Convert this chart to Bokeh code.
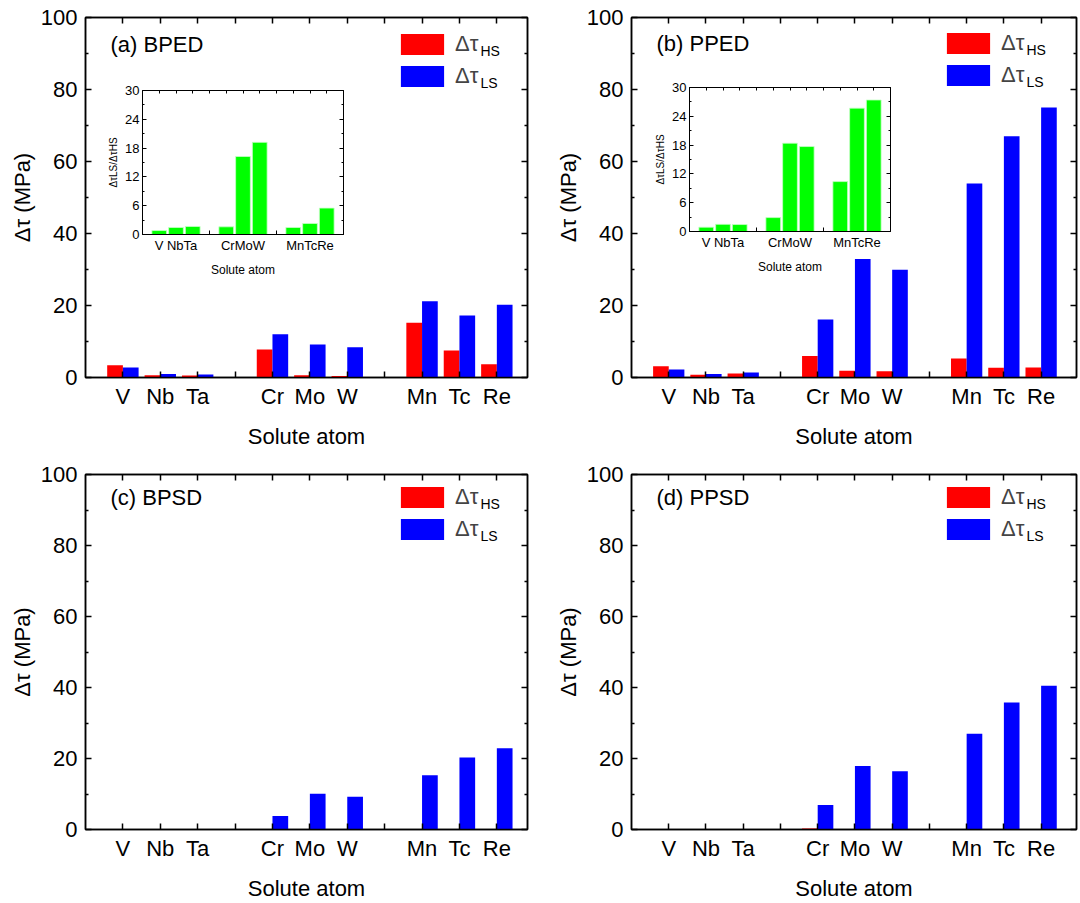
from bokeh.plotting import figure
from bokeh.models import (ColumnDataSource, Range1d, FixedTicker, LinearAxis,
                          Legend, LegendItem, Label, GridBox)
from bokeh.transform import dodge
from bokeh.core.properties import value
from bokeh.embed import file_html
from bokeh.resources import INLINE

# ---------------- data ----------------
groups = [["V", "Nb", "Ta"], ["Cr", "Mo", "W"], ["Mn", "Tc", "Re"]]
inset_group_labels = ["V NbTa", "CrMoW", "MnTcRe"]

bped_hs = [3.4, 0.65, 0.55, 7.8, 0.6, 0.4, 15.2, 7.5, 3.7]
bped_ls = [2.8, 1.0, 0.8, 12.0, 9.2, 8.4, 21.2, 17.2, 20.2]
pped_hs = [3.15, 0.74, 1.1, 6.0, 1.85, 1.75, 5.3, 2.7, 2.8]
pped_ls = [2.2, 1.0, 1.4, 16.1, 32.9, 29.9, 53.9, 67.0, 75.0]
bpsd_hs = [0.0, 0.0, 0.0, 0.1, 0.0, 0.0, 0.0, 0.0, 0.0]
bpsd_ls = [0.0, 0.0, 0.0, 3.8, 10.1, 9.2, 15.3, 20.3, 22.9]
ppsd_hs = [0.15, 0.0, 0.0, 0.3, 0.0, 0.0, 0.0, 0.0, 0.0]
ppsd_ls = [0.15, 0.0, 0.0, 6.9, 17.9, 16.4, 27.0, 35.8, 40.5]
bped_ratio = [0.83, 1.46, 1.67, 1.6, 16.25, 19.2, 1.46, 2.3, 5.5]
pped_ratio = [0.9, 1.5, 1.45, 2.9, 18.4, 17.7, 10.4, 25.7, 27.4]

y_major = [0, 20, 40, 60, 80, 100]
y_minor = [10, 30, 50, 70, 90]
inset_y_major = [0, 6, 12, 18, 24, 30]
inset_y_minor = [3, 9, 15, 21, 27]

# ---------------- layout helpers ----------------
atoms = [a for g in groups for a in g]
pos = [gi * 4 + i + 1 for gi, g in enumerate(groups) for i, _ in enumerate(g)]
all_ticks = list(range(1, 12))
gap_ticks = [gi * 4 for gi in range(1, len(groups))]
group_centers = [gi * 4 + 2 for gi in range(len(groups))]
xlabels = {t: "" for t in all_ticks}
for p_, a in zip(pos, atoms):
    xlabels[p_] = a

FONT = "Liberation Sans"
LW = 1.5


def style_axis(ax, size="22px", tick_in=6, minor_in=3):
    ax.axis_line_width = LW
    ax.axis_line_color = "black"
    ax.major_tick_line_width = LW
    ax.minor_tick_line_width = LW
    ax.major_tick_in = tick_in
    ax.major_tick_out = 0
    ax.minor_tick_in = minor_in
    ax.minor_tick_out = 0
    ax.major_label_text_font = FONT
    ax.major_label_text_font_size = size
    ax.major_label_text_color = "black"
    ax.axis_label_text_font = FONT
    ax.axis_label_text_font_style = "normal"
    ax.axis_label_text_color = "black"


def blank_axis(ticker, tick_in=6, minor_in=3):
    ax = LinearAxis(ticker=ticker)
    style_axis(ax, "0px", tick_in, minor_in)
    ax.major_label_standoff = 0
    ax.major_label_overrides = {t: "" for t in list(ticker.ticks)}
    return ax


def main_panel(tag, hs, ls, x_end, w, h, bl, br, bt, bb):
    p = figure(width=w, height=h, x_range=Range1d(0, x_end), y_range=Range1d(0, 100),
               output_backend="svg", toolbar_location=None,
               min_border_left=bl, min_border_right=br, min_border_top=bt, min_border_bottom=bb)
    p.xgrid.visible = False
    p.ygrid.visible = False
    p.outline_line_color = "black"
    p.outline_line_width = LW
    p.background_fill_color = "white"
    p.border_fill_color = "white"
    src = ColumnDataSource(dict(x=pos, hs=hs, ls=ls))
    r1 = p.vbar(x=dodge("x", -0.21), top="hs", width=0.42, source=src,
                fill_color="#FF0000", line_color=None)
    r2 = p.vbar(x=dodge("x", 0.21), top="ls", width=0.42, source=src,
                fill_color="#0000FF", line_color=None)

    p.xaxis.ticker = FixedTicker(ticks=all_ticks)
    p.xaxis.major_label_overrides = xlabels
    p.yaxis.ticker = FixedTicker(ticks=y_major, minor_ticks=y_minor)
    for ax in p.xaxis + p.yaxis:
        style_axis(ax)
    p.xaxis.axis_label = "Solute atom"
    p.xaxis.axis_label_text_font_size = "22px"
    p.xaxis.major_label_standoff = 6
    p.xaxis.axis_label_standoff = 12
    p.yaxis.axis_label = "Δτ (MPa)"
    p.yaxis.axis_label_text_font_size = "22px"
    p.yaxis.major_label_standoff = 8
    p.yaxis.axis_label_standoff = 3

    p.add_layout(blank_axis(FixedTicker(ticks=y_major, minor_ticks=y_minor)), "right")
    p.add_layout(blank_axis(FixedTicker(ticks=all_ticks)), "above")

    fh = h - bt - bb
    leg_x, leg_y = 310, fh - 15 - 58
    leg = Legend(items=[LegendItem(label=value("Δτ"), renderers=[r1]),
                        LegendItem(label=value("Δτ"), renderers=[r2])],
                 location=(leg_x, leg_y), orientation="vertical",
                 padding=0, margin=0, spacing=6, glyph_width=54, glyph_height=26,
                 label_height=26, label_standoff=6,
                 label_text_font=FONT, label_text_font_size="22px",
                 background_fill_alpha=0, border_line_alpha=0)
    p.add_layout(leg)
    for txt, dy in (("HS", 0), ("LS", 32)):
        p.add_layout(Label(x=leg_x + 85, y=leg_y + 58 - 19.5 - dy, x_units="screen", y_units="screen",
                           text=txt, text_font=FONT, text_font_size="14px",
                           text_baseline="alphabetic", text_color="black"))
    p.add_layout(Label(x=25, y=fh - 28, x_units="screen", y_units="screen", text=tag,
                       text_font=FONT, text_font_size="22px", text_baseline="middle",
                       text_color="black"))
    return p


def inset_panel(ratio, top, left):
    q = figure(width=245, height=199, x_range=Range1d(0, 12), y_range=Range1d(0, 30),
               output_backend="svg", toolbar_location=None,
               min_border_left=38, min_border_right=6, min_border_top=10, min_border_bottom=45)
    q.xgrid.visible = False
    q.ygrid.visible = False
    q.outline_line_color = "black"
    q.outline_line_width = 1
    q.background_fill_color = "white"
    q.border_fill_alpha = 0
    src = ColumnDataSource(dict(x=pos, r=ratio))
    q.vbar(x="x", top="r", width=0.88, source=src, fill_color="#00FF00",
           line_color="#C8FFC8", line_width=0.8)
    q.xaxis.ticker = FixedTicker(ticks=group_centers, minor_ticks=gap_ticks)
    q.xaxis.major_label_overrides = {c: l for c, l in zip(group_centers, inset_group_labels)}
    q.yaxis.ticker = FixedTicker(ticks=inset_y_major, minor_ticks=inset_y_minor)
    for ax in q.xaxis + q.yaxis:
        style_axis(ax, "13px", 4, 2)
        ax.axis_line_width = 1
        ax.major_tick_line_width = 1
        ax.minor_tick_line_width = 1
    q.xaxis.major_tick_in = 0
    q.xaxis.minor_tick_in = 4
    q.xaxis.major_label_standoff = 3
    q.xaxis.axis_label = "Solute atom"
    q.xaxis.axis_label_text_font_size = "12px"
    q.xaxis.axis_label_standoff = 7
    q.yaxis.major_label_standoff = 3
    q.yaxis.axis_label = "ΔτLS/ΔτHS"
    q.yaxis.axis_label_text_font_size = "10px"
    q.yaxis.axis_label_standoff = 3
    ra = blank_axis(FixedTicker(ticks=inset_y_major, minor_ticks=inset_y_minor), 4, 2)
    ta = blank_axis(FixedTicker(ticks=all_ticks), 3, 0)
    for ax in (ra, ta):
        ax.axis_line_width = 1
        ax.major_tick_line_width = 1
        ax.minor_tick_line_width = 1
    q.add_layout(ra, "right")
    q.add_layout(ta, "above")
    q.styles = {"position": "absolute", "left": f"{left}px", "top": f"{top}px",
                "z-index": "10"}
    return q


pa = main_panel("(a) BPED", bped_hs, bped_ls, 11.82, 540, 451, 85, 13, 17, 73)
pb = main_panel("(b) PPED", pped_hs, pped_ls, 11.95, 540, 451, 91, 4, 15, 74)
pc = main_panel("(c) BPSD", bpsd_hs, bpsd_ls, 11.82, 540, 452, 85, 13, 23, 69)
pd = main_panel("(d) PPSD", ppsd_hs, ppsd_ls, 11.95, 540, 452, 90, 4, 23, 69)
ia = inset_panel(bped_ratio, 80, 104)
ib = inset_panel(pped_ratio, 77, 651)

grid = GridBox(children=[(pa, 0, 0), (pb, 0, 1), (pc, 1, 0), (pd, 1, 1)], spacing=0)

open("out.html", "w").write(file_html([grid, ia, ib], INLINE))
